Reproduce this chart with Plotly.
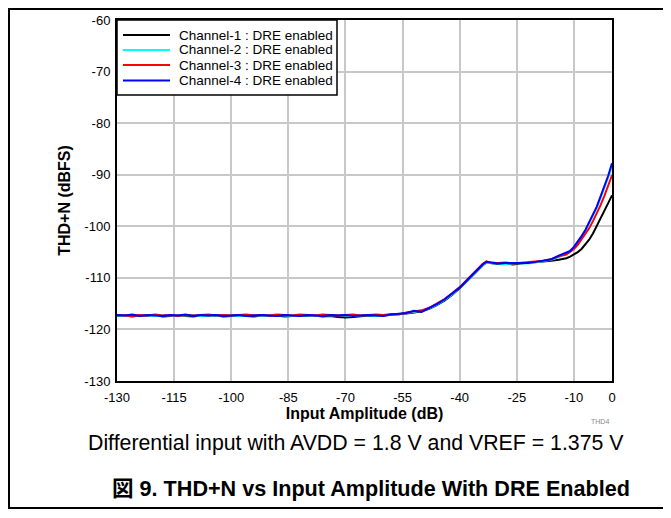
import plotly.graph_objects as go

# ---- data ----
x_db = [-130, -128, -126, -124, -122, -120, -118, -116, -114, -112, -110, -108, -106, -104, -102,
        -100, -98, -96, -94, -92, -90, -88, -86, -84, -82, -80, -78, -76, -74, -72, -70, -68,
        -66, -64, -62, -60, -58, -56, -54, -52, -50, -48, -46, -44, -42, -40, -38, -36, -34,
        -33, -32, -30, -28, -26, -24, -22, -20, -18, -16, -14, -12, -11, -10, -9, -8, -7, -6,
        -5, -4, -3, -2, -1, 0]

ch1 = [-117.4, -117.3, -117.5, -117.3, -117.4, -117.2, -117.5, -117.4, -117.3, -117.4, -117.5, -117.3,
       -117.4, -117.3, -117.5, -117.4, -117.3, -117.4, -117.5, -117.3, -117.4, -117.3, -117.5, -117.4,
       -117.3, -117.4, -117.3, -117.5, -117.4, -117.6, -117.7, -117.6, -117.4, -117.3, -117.4, -117.3,
       -117.2, -117.1, -116.9, -116.7, -116.5, -116.0, -115.3, -114.4, -113.3, -112.0, -110.6, -109.1,
       -107.6, -107.0, -107.1, -107.3, -107.2, -107.4, -107.2, -107.1, -107.0, -106.9, -106.7, -106.5,
       -106.2, -105.9, -105.5, -105.0, -104.4, -103.6, -102.6, -101.4, -100.0, -98.5, -97.0, -95.5, -94.0]

ch2 = [-117.3, -117.4, -117.2, -117.3, -117.3, -117.4, -117.2, -117.3, -117.4, -117.3, -117.2, -117.4,
       -117.3, -117.4, -117.2, -117.3, -117.4, -117.3, -117.2, -117.4, -117.3, -117.2, -117.3, -117.4,
       -117.2, -117.3, -117.4, -117.2, -117.3, -117.2, -117.3, -117.4, -117.3, -117.2, -117.4, -117.3,
       -117.1, -117.0, -116.8, -116.6, -116.4, -115.9, -115.2, -114.3, -113.2, -111.9, -110.5, -109.0,
       -107.5, -107.0, -107.1, -107.2, -107.3, -107.2, -107.1, -107.2, -107.0, -106.8, -106.5, -106.0,
       -105.3, -104.8, -104.1, -103.2, -102.1, -100.9, -99.5, -98.0, -96.4, -94.5, -92.6, -90.6, -88.5]

ch3 = [-117.2, -117.3, -117.4, -117.2, -117.3, -117.1, -117.3, -117.2, -117.4, -117.2, -117.3, -117.2,
       -117.1, -117.3, -117.2, -117.3, -117.2, -117.1, -117.3, -117.2, -117.3, -117.1, -117.2, -117.3,
       -117.1, -117.2, -117.3, -117.1, -117.2, -117.3, -117.2, -117.1, -117.3, -117.2, -117.1, -117.2,
       -117.0, -117.1, -116.7, -116.5, -116.3, -115.8, -115.0, -114.1, -113.0, -111.8, -110.3, -108.8,
       -107.3, -106.8, -107.0, -107.1, -107.0, -107.2, -107.1, -107.0, -106.9, -106.7, -106.4, -105.8,
       -105.5, -105.0, -104.4, -103.6, -102.6, -101.6, -100.4, -99.0, -97.6, -95.9, -94.1, -92.2, -90.1]

ch4 = [-117.2, -117.3, -117.1, -117.4, -117.2, -117.3, -117.4, -117.2, -117.3, -117.1, -117.4, -117.2,
       -117.3, -117.2, -117.4, -117.3, -117.2, -117.4, -117.3, -117.2, -117.3, -117.4, -117.2, -117.3,
       -117.4, -117.2, -117.3, -117.4, -117.2, -117.3, -117.2, -117.4, -117.3, -117.2, -117.3, -117.4,
       -117.1, -117.0, -116.8, -116.4, -116.6, -115.8, -115.1, -114.2, -113.1, -111.9, -110.4, -108.9,
       -107.4, -106.9, -107.0, -107.2, -107.1, -107.1, -107.0, -107.1, -106.9, -106.7, -106.4, -105.7,
       -105.2, -104.8, -104.0, -103.0, -101.9, -100.7, -99.3, -97.8, -96.2, -94.2, -92.3, -90.2, -87.8]

series_names = ["Channel-1 : DRE enabled", "Channel-2 : DRE enabled",
                "Channel-3 : DRE enabled", "Channel-4 : DRE enabled"]
series_values = [ch1, ch2, ch3, ch4]
series_colors = ["#000000", "#00FFFF", "#FF0000", "#0000FF"]

x_ticks = [-130, -115, -100, -85, -70, -55, -40, -25, -10, 0]
y_ticks = [-60, -70, -80, -90, -100, -110, -120, -130]

FONT = "Liberation Sans, Arial, Noto Sans CJK JP, sans-serif"

fig = go.Figure()
for name, vals, col in zip(series_names, series_values, series_colors):
    fig.add_trace(go.Scatter(x=x_db, y=vals, mode="lines", name=name,
                             line=dict(color=col, width=2), showlegend=False))

# page body has an 8px margin: figure coordinates = screen - 8
OFF = 8
W, H = 671 - OFF, 518 - OFF
L, R, T, B = 117 - OFF, 612 - OFF, 20 - OFF, 381 - OFF
pw, ph = R - L, B - T


def px(sx):
    return (sx - OFF - L) / pw


def py(sy):
    return (B - (sy - OFF)) / ph


fig.update_layout(
    width=W, height=H,
    margin=dict(l=L, r=W - R, t=T, b=H - B, autoexpand=False),
    paper_bgcolor="white", plot_bgcolor="white",
    font=dict(family=FONT, color="black", size=13),
    showlegend=False,
    xaxis=dict(range=[-130, 0], tickvals=x_ticks, ticktext=[str(v) for v in x_ticks],
               showgrid=True, gridcolor="#c8c8c8", gridwidth=1.5,
               showline=True, linecolor="black", linewidth=2, mirror=True,
               zeroline=False, ticks="", tickfont=dict(size=13), ticklabelstandoff=3,
               automargin=False,
               title=dict(text="<b>Input Amplitude (dB)</b>", font=dict(size=16), standoff=0)),
    yaxis=dict(range=[-130, -60], tickvals=y_ticks, ticktext=[str(v) for v in y_ticks],
               showgrid=True, gridcolor="#c8c8c8", gridwidth=1.5,
               showline=True, linecolor="black", linewidth=2, mirror=True,
               zeroline=False, ticks="", tickfont=dict(size=13), ticklabelstandoff=2,
               automargin=False,
               title=dict(text="<b>THD+N (dBFS)</b>", font=dict(size=16), standoff=10)),
)

# legend box drawn manually (tight row spacing as in reference)
fig.add_shape(type="rect", xref="paper", yref="paper",
              x0=px(117), x1=px(337), y0=py(95), y1=py(20),
              fillcolor="white", line=dict(color="black", width=1.5))
row_y = [35, 50, 65, 80.5]
for name, col, ry in zip(series_names, series_colors, row_y):
    fig.add_shape(type="line", xref="paper", yref="paper",
                  x0=px(123), x1=px(170), y0=py(ry), y1=py(ry),
                  line=dict(color=col, width=2))
    fig.add_annotation(text=name, xref="paper", yref="paper", x=px(177), y=py(ry),
                       xanchor="left", yanchor="middle", showarrow=False,
                       font=dict(size=13.5, family=FONT))

# outer frame lines
fig.add_shape(type="line", xref="paper", yref="paper",
              x0=px(8), x1=px(671), y0=py(9), y1=py(9), line=dict(color="black", width=2))
fig.add_shape(type="line", xref="paper", yref="paper",
              x0=px(9), x1=px(9), y0=py(8), y1=py(508), line=dict(color="black", width=2))
fig.add_shape(type="line", xref="paper", yref="paper",
              x0=px(8), x1=px(671), y0=py(508), y1=py(508), line=dict(color="black", width=2))

fig.add_annotation(text="THD4", xref="paper", yref="paper", x=px(600), y=py(421),
                   xanchor="center", yanchor="middle",
                   showarrow=False, font=dict(size=7, color="#888888", family=FONT))
fig.add_annotation(text="Differential input with AVDD = 1.8 V and VREF = 1.375 V",
                   xref="paper", yref="paper", x=px(356), y=py(443),
                   xanchor="center", yanchor="middle",
                   showarrow=False, font=dict(size=21.3, family=FONT))
fig.add_annotation(text="<b>図 9. THD+N vs Input Amplitude With DRE Enabled</b>",
                   xref="paper", yref="paper", x=px(371), y=py(488),
                   xanchor="center", yanchor="middle",
                   showarrow=False, font=dict(size=21.6, family=FONT))

fig.write_html("out.html")
